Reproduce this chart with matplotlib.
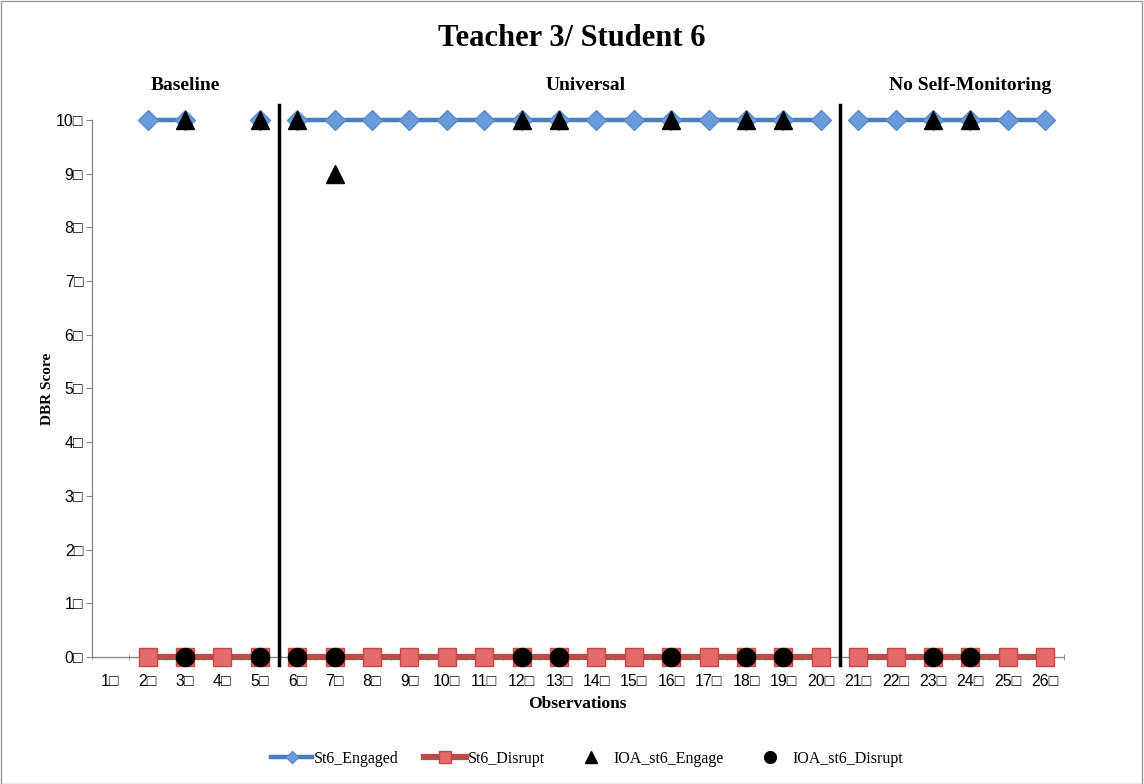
import matplotlib.pyplot as plt
from matplotlib.patches import Rectangle
import numpy as np

nan = np.nan

# observation numbers and scores
obs = list(range(1, 27))
engaged = [nan, 10, 10, nan, 10,
           10, 10, 10, 10, 10, 10, 10, 10, 10, 10, 10, 10, 10, 10, 10,
           10, 10, 10, 10, 10, 10]
disrupt = [nan, 0, 0, 0, 0,
           0, 0, 0, 0, 0, 0, 0, 0, 0, 0, 0, 0, 0, 0, 0,
           0, 0, 0, 0, 0, 0]
ioa_obs = [3, 5, 6, 7, 12, 13, 16, 18, 19, 23, 24]
ioa_engage = [10, 10, 10, 9, 10, 10, 10, 10, 10, 10, 10]
ioa_disrupt = [0, 0, 0, 0, 0, 0, 0, 0, 0, 0, 0]

# phases: (label, first obs, last obs)
phases = [('Baseline', 1, 5), ('Universal', 6, 20), ('No Self-Monitoring', 21, 26)]
phase_label_x = [3, 13.7, 24]

serif = 'Liberation Serif'
sans = 'Liberation Sans'

fig = plt.figure(figsize=(11.44, 7.84), dpi=100)
ax = fig.add_axes([0.080, 0.162, 0.850, 0.685])

blue = '#4A7EBB'
blue_fill = '#6A9BDB'
red = '#BE4B48'
red_fill = '#E56A6A'

obs_a = np.array(obs)
eng_a = np.array(engaged, dtype=float)
dis_a = np.array(disrupt, dtype=float)

for i, (name, a, b) in enumerate(phases):
    m = (obs_a >= a) & (obs_a <= b)
    ax.plot(obs_a[m], dis_a[m], color=red, lw=4.5, marker='s', ms=13,
            mfc=red_fill, mec='#C44A47', mew=1, clip_on=False, zorder=3,
            label='St6_Disrupt' if i == 0 else None)
    ax.plot(obs_a[m], eng_a[m], color=blue, lw=3.2, marker='D', ms=10,
            mfc=blue_fill, mec='#5A8BCB', mew=1, clip_on=False, zorder=3,
            label='St6_Engaged' if i == 0 else None)

ax.plot(ioa_obs, ioa_engage, ls='none', marker='^', ms=13, color='black',
        clip_on=False, zorder=4, label='IOA_st6_Engage')
ax.plot(ioa_obs, ioa_disrupt, ls='none', marker='o', ms=13, color='black',
        clip_on=False, zorder=4, label='IOA_st6_Disrupt')

# phase change lines and labels
for name, a, b in phases[1:]:
    ax.plot([a - 0.5, a - 0.5], [-0.15, 10.28], color='black', lw=2.5,
            clip_on=False, zorder=5)
for (name, a, b), px in zip(phases, phase_label_x):
    ax.text(px, 10.65, name, ha='center', va='center', fontsize=14,
            fontweight='bold', family=serif)

ax.set_xlim(0.5, 26.5)
ax.set_ylim(0, 10)
ax.set_xticks(obs)
ax.set_xticklabels([f'{n}\u25a1' for n in obs], fontsize=11.5, family=sans)
ax.set_xticks(np.arange(0.5, 27, 1), minor=True)
ax.set_yticks(range(0, 11))
ax.set_yticklabels([f'{n}\u25a1' for n in range(0, 11)], fontsize=11.5, family=sans)
ax.tick_params(axis='x', which='major', length=0, pad=12)
ax.tick_params(axis='x', which='minor', length=4, direction='inout', color='#888888')
ax.tick_params(axis='y', length=4, color='#888888', pad=2)

for s in ['top', 'right']:
    ax.spines[s].set_visible(False)
for s in ['left', 'bottom']:
    ax.spines[s].set_color('#888888')
    ax.spines[s].set_linewidth(1)

ax.set_xlabel('Observations', fontsize=12.5, fontweight='bold', family=serif, labelpad=5)
ax.set_ylabel('DBR Score', fontsize=11, fontweight='bold', family=serif, labelpad=1)
fig.suptitle('Teacher 3/ Student 6', fontsize=22, fontweight='bold', family=serif, y=0.97)

handles, labels = ax.get_legend_handles_labels()
order = ['St6_Engaged', 'St6_Disrupt', 'IOA_st6_Engage', 'IOA_st6_Disrupt']
hmap = dict(zip(labels, handles))
fig.legend([hmap[k] for k in order], order, loc='center', bbox_to_anchor=(0.513, 0.032),
           ncol=4, frameon=False, prop={'family': serif, 'size': 11.5},
           handlelength=2.6, handletextpad=0.1, columnspacing=1.6, markerscale=0.65)

fig.patches.append(Rectangle((0.0005, 0.0005), 0.998, 0.998, transform=fig.transFigure,
                             fill=False, edgecolor='#999999', lw=1))

plt.savefig('out.png', dpi=100)
